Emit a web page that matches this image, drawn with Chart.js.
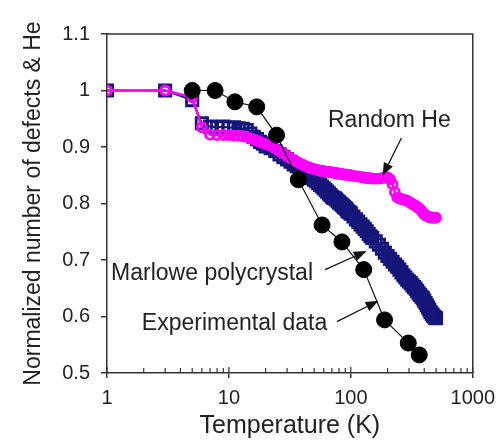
<!DOCTYPE html>
<html>
<head>
<meta charset="utf-8">
<script src="https://cdn.jsdelivr.net/npm/chart.js@4.4.0/dist/chart.umd.min.js"></script>
<style>
  html, body { margin: 0; padding: 0; background: #fff; }
</style>
</head>
<body>
<canvas id="defectChart" width="503" height="441"></canvas>
<script>
// Experimental annealing data
const expTemps = [5, 7.7, 11.2, 16.9, 24.6, 37.1, 58.1, 84.5, 127.6, 189, 296, 364];
const expValues = [1.0, 1.0, 0.98, 0.971, 0.921, 0.842, 0.762, 0.732, 0.683, 0.594, 0.553, 0.532];

// Simulation temperatures (shared by both MARLOWE runs)
const simTemps = [
  1, 3, 5, 6, 7, 8, 9, 10, 11, 12, 13, 14, 15, 16, 17, 18, 19, 20,
  22, 24, 26, 28, 30, 32, 34, 36, 38, 40, 42, 44, 46, 48, 50,
  52, 54, 56, 58, 60, 62, 64, 66, 68, 70, 72, 74, 76, 78, 80, 82, 84, 86, 88, 90, 92, 94, 96, 98, 100,
  105, 110, 115, 120, 125, 130, 135, 140, 145, 150,
  160, 170, 180, 190, 200, 210, 220, 230, 240, 250, 260, 270, 280, 290, 300,
  310, 320, 330, 340, 350, 360, 370, 380, 390, 400, 410, 420, 430, 440, 450,
  460, 470, 480, 490, 500
];

const marloweValues = [
  1.0, 1.0, 0.983, 0.942, 0.936, 0.935, 0.936, 0.934, 0.935, 0.933, 0.932, 0.93, 0.924, 0.918, 0.914, 0.909, 0.906, 0.901,
  0.898, 0.893, 0.887, 0.882, 0.878, 0.874, 0.869, 0.866, 0.861, 0.858, 0.855, 0.851, 0.849, 0.845, 0.842,
  0.839, 0.836, 0.833, 0.83, 0.827, 0.824, 0.821, 0.818, 0.815, 0.812, 0.81, 0.809, 0.807, 0.804, 0.802, 0.8, 0.798, 0.796, 0.794, 0.792, 0.79, 0.787, 0.785, 0.784, 0.782,
  0.777, 0.772, 0.768, 0.763, 0.759, 0.755, 0.751, 0.746, 0.742, 0.739,
  0.733, 0.727, 0.72, 0.713, 0.707, 0.702, 0.697, 0.692, 0.688, 0.683, 0.678, 0.673, 0.669, 0.665, 0.662,
  0.659, 0.655, 0.652, 0.649, 0.645, 0.641, 0.638, 0.635, 0.632, 0.628, 0.624, 0.62, 0.616, 0.612, 0.608,
  0.605, 0.602, 0.6, 0.598, 0.597
];

const randomHeValues = [
  1.0, 1.0, 0.988, 0.935, 0.922, 0.921, 0.921, 0.921, 0.92, 0.92, 0.919, 0.918, 0.915, 0.913, 0.911, 0.909, 0.907, 0.905,
  0.902, 0.897, 0.893, 0.889, 0.884, 0.88, 0.877, 0.874, 0.871, 0.869, 0.867, 0.865, 0.863, 0.862, 0.861,
  0.86, 0.859, 0.858, 0.858, 0.857, 0.857, 0.856, 0.856, 0.855, 0.855, 0.855, 0.854, 0.854, 0.853, 0.853, 0.853, 0.852, 0.852, 0.851, 0.851, 0.851, 0.851, 0.85, 0.85, 0.85,
  0.849, 0.848, 0.848, 0.847, 0.846, 0.846, 0.845, 0.845, 0.845, 0.844,
  0.844, 0.844, 0.845, 0.846, 0.846, 0.843, 0.834, 0.82, 0.811, 0.809, 0.808, 0.807, 0.806, 0.805, 0.803,
  0.801, 0.799, 0.797, 0.796, 0.794, 0.792, 0.79, 0.787, 0.784, 0.781, 0.779, 0.778, 0.777, 0.776, 0.775,
  0.775, 0.775, 0.775, 0.775, 0.775
];

const xTickValues = [1, 10, 100, 1000];

function toPoints(xs, ys) {
  return xs.map((x, i) => ({ x: x, y: ys[i] }));
}

// labels with arrows pointing at each curve (data coordinates)
const notes = [
  { text: "Random He", x: 207, y: 0.936, align: "center", from: [260, 0.916], to: [182, 0.849] },
  { text: "Marlowe polycrystal", x: 1.08, y: 0.665, align: "left", from: [61.5, 0.683], to: [135, 0.716] },
  { text: "Experimental data", x: 1.93, y: 0.576, align: "left", from: [76.9, 0.591], to: [169, 0.628] }
];

const axisColor = "#333";
const textColor = "#222";
Chart.defaults.font.family = "'Liberation Sans', Arial, sans-serif";

// box frame + inner minor ticks on the log axis
const framePlugin = {
  id: "frame",
  afterDraw(chart) {
    const { ctx, chartArea: a, scales } = chart;
    ctx.save();
    ctx.strokeStyle = axisColor;
    ctx.lineWidth = 1.5;
    ctx.beginPath();
    ctx.moveTo(a.left, a.top);
    ctx.lineTo(a.right, a.top);
    ctx.lineTo(a.right, a.bottom);
    ctx.stroke();

    ctx.lineWidth = 1.2;
    ctx.beginPath();
    for (let dec = 1; dec < 1000; dec *= 10) {
      for (let m = 1; m <= 10; m++) {
        const px = scales.x.getPixelForValue(dec * m);
        const len = (m === 1 || m === 10) ? 6 : 5;
        ctx.moveTo(px, a.bottom);
        ctx.lineTo(px, a.bottom - len);
      }
    }
    ctx.stroke();
    ctx.restore();
  }
};

const notesPlugin = {
  id: "notes",
  afterDatasetsDraw(chart) {
    const { ctx, scales } = chart;
    const X = v => scales.x.getPixelForValue(v);
    const Y = v => scales.y.getPixelForValue(v);
    ctx.save();
    ctx.fillStyle = textColor;
    ctx.strokeStyle = "#111";
    ctx.font = "23px 'Liberation Sans', Arial, sans-serif";
    ctx.textBaseline = "alphabetic";
    notes.forEach(n => {
      ctx.textAlign = n.align;
      ctx.fillText(n.text, X(n.x), Y(n.y));

      const x0 = X(n.from[0]), y0 = Y(n.from[1]);
      const x1 = X(n.to[0]), y1 = Y(n.to[1]);
      const ang = Math.atan2(y1 - y0, x1 - x0);
      const head = 13, half = 5;
      ctx.lineWidth = 1.3;
      ctx.beginPath();
      ctx.moveTo(x0, y0);
      ctx.lineTo(x1 - head * Math.cos(ang), y1 - head * Math.sin(ang));
      ctx.stroke();
      ctx.fillStyle = "#111";
      ctx.beginPath();
      ctx.moveTo(x1, y1);
      ctx.lineTo(x1 - head * Math.cos(ang) + half * Math.sin(ang), y1 - head * Math.sin(ang) - half * Math.cos(ang));
      ctx.lineTo(x1 - head * Math.cos(ang) - half * Math.sin(ang), y1 - head * Math.sin(ang) + half * Math.cos(ang));
      ctx.closePath();
      ctx.fill();
      ctx.fillStyle = textColor;
    });
    ctx.restore();
  }
};

new Chart(document.getElementById("defectChart"), {
  type: "scatter",
  data: {
    datasets: [
      {
        label: "Experimental data",
        data: toPoints(expTemps, expValues),
        showLine: true,
        borderColor: "#111",
        borderWidth: 1.2,
        pointStyle: "circle",
        pointRadius: 8,
        pointBackgroundColor: "#000",
        pointBorderColor: "#000",
        pointBorderWidth: 1
      },
      {
        label: "Random He",
        data: toPoints(simTemps, randomHeValues),
        showLine: true,
        borderColor: "#ff00ff",
        borderWidth: 2.5,
        pointStyle: "circle",
        pointRadius: 4.5,
        pointBackgroundColor: "rgba(0,0,0,0)",
        pointBorderColor: "#ff00ff",
        pointBorderWidth: 2.8
      },
      {
        label: "Marlowe polycrystal",
        data: toPoints(simTemps, marloweValues),
        showLine: true,
        borderColor: "#15157a",
        borderWidth: 2,
        pointStyle: "rect",
        pointRadius: 8,
        pointBackgroundColor: "rgba(0,0,0,0)",
        pointBorderColor: "#15157a",
        pointBorderWidth: 2.8
      }
    ]
  },
  options: {
    responsive: false,
    animation: false,
    layout: { padding: { top: 34, right: 26, left: 0, bottom: 0 } },
    plugins: {
      legend: { display: false },
      tooltip: { enabled: false }
    },
    scales: {
      x: {
        type: "logarithmic",
        min: 1,
        max: 1000,
        afterBuildTicks: s => { s.ticks = xTickValues.map(v => ({ value: v })); },
        afterFit: s => { s.height = 68; },
        ticks: {
          autoSkip: false,
          maxRotation: 0,
          padding: 8,
          color: textColor,
          font: { size: 20 },
          callback: v => String(v)
        },
        grid: { drawOnChartArea: false, drawTicks: true, tickLength: 5, color: axisColor, lineWidth: 1.5 },
        border: { color: axisColor, width: 1.5 },
        title: {
          display: true,
          text: "Temperature (K)",
          color: textColor,
          font: { size: 25 },
          padding: { top: 0, bottom: 0 }
        }
      },
      y: {
        type: "linear",
        min: 0.5,
        max: 1.1,
        afterFit: s => { s.width = 107; },
        ticks: {
          stepSize: 0.1,
          padding: 11,
          color: textColor,
          font: { size: 20 },
          callback: v => String(Number(v.toFixed(1)))
        },
        grid: { drawOnChartArea: false, drawTicks: true, tickLength: 6, color: axisColor, lineWidth: 1.5 },
        border: { color: axisColor, width: 1.5 },
        title: {
          display: true,
          text: "Normalized number of defects & He",
          color: textColor,
          font: { size: 23 },
          padding: { top: 20, bottom: 0 }
        }
      }
    }
  },
  plugins: [framePlugin, notesPlugin]
});
</script>
</body>
</html>
